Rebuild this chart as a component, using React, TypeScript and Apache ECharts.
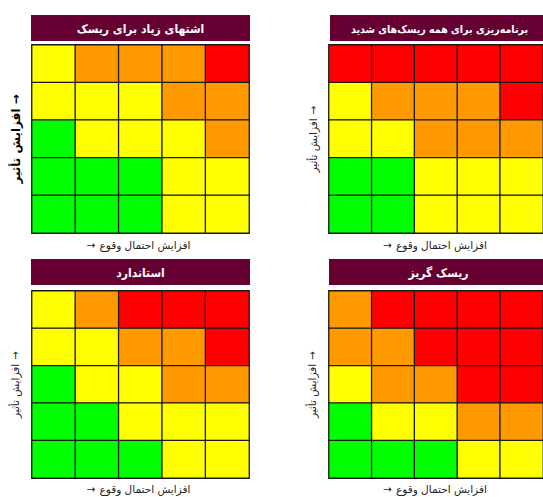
import React, { useEffect, useRef } from "react";
import * as echarts from "echarts";

// Axis categories (likelihood left→right, impact bottom→top)
const likelihood = ["1", "2", "3", "4", "5"];
const impact = ["1", "2", "3", "4", "5"];

// Risk levels: G = low, Y = medium, O = high, R = very high
const levelOrder = ["G", "Y", "O", "R"];
const levelColors = ["#00ff00", "#ffff00", "#ff9900", "#ff0000"];

// Matrices, rows listed from the highest impact (top) to the lowest
const highAppetite = [
  ["Y", "O", "O", "O", "R"],
  ["Y", "Y", "Y", "O", "O"],
  ["G", "Y", "Y", "Y", "O"],
  ["G", "G", "G", "Y", "Y"],
  ["G", "G", "G", "Y", "Y"],
];
const planSevere = [
  ["R", "R", "R", "R", "R"],
  ["Y", "O", "O", "O", "R"],
  ["Y", "Y", "O", "O", "O"],
  ["G", "G", "Y", "Y", "Y"],
  ["G", "G", "Y", "Y", "Y"],
];
const standard = [
  ["Y", "O", "R", "R", "R"],
  ["Y", "Y", "O", "O", "R"],
  ["G", "Y", "Y", "O", "O"],
  ["G", "G", "Y", "Y", "Y"],
  ["G", "G", "G", "Y", "Y"],
];
const riskAverse = [
  ["O", "R", "R", "R", "R"],
  ["O", "O", "R", "R", "R"],
  ["Y", "O", "O", "R", "R"],
  ["G", "Y", "Y", "O", "O"],
  ["G", "G", "G", "Y", "Y"],
];

const panelTitles = [
  "اشتهای زیاد برای ریسک",
  "برنامه‌ریزی برای همه ریسک‌های شدید",
  "استاندارد",
  "ریسک گریز",
];
const panelMatrices = [highAppetite, planSevere, standard, riskAverse];

const xAxisText = "افزایش احتمال وقوع";
const yAxisText = "افزایش تأثیر";
const ARROW = "→";

const FONT = '"DejaVu Sans", sans-serif';
const TITLE_FONT = '"DejaVu Sans Condensed", "DejaVu Sans", sans-serif';

// Panel frames: grid box, title bar, and axis-label anchors
const layout = [
  { left: 32, top: 45, width: 217, height: 188, barX: 31, barY: 15, xLabY: 245, yLabX: 16, titleSize: 12 },
  { left: 329, top: 45, width: 216, height: 188, barX: 330, barY: 15, xLabY: 245, yLabX: 313, titleSize: 10.6 },
  { left: 32, top: 291, width: 217, height: 187, barX: 31, barY: 259, xLabY: 489, yLabX: 15, titleSize: 12 },
  { left: 329, top: 291, width: 216, height: 187, barX: 329, barY: 259, xLabY: 489, yLabX: 312, titleSize: 12 },
];
const BAR_W = 219;
const BAR_H = 26;

const measure = (() => {
  const ctx = document.createElement("canvas").getContext("2d")!;
  return (text: string, font: string) => {
    ctx.font = font;
    return ctx.measureText(text).width;
  };
})();

const centered = (text: string, x: number, y: number, font: string, fill: string) => ({
  type: "text",
  x,
  y,
  silent: true,
  style: { text, fill, font, align: "center", verticalAlign: "middle" },
});

export default function App() {
  const ref = useRef<HTMLDivElement>(null);

  useEffect(() => {
    document.body.style.margin = "0";
    if (!ref.current) return;
    const chart = echarts.init(ref.current, undefined, { renderer: "svg" });

    const grids: any[] = [];
    const xAxes: any[] = [];
    const yAxes: any[] = [];
    const series: any[] = [];
    const graphics: any[] = [];

    const hidden = {
      axisLine: { show: false },
      axisTick: { show: false },
      axisLabel: { show: false },
      splitLine: { show: false },
    };

    panelMatrices.forEach((matrix, i) => {
      const L = layout[i];
      grids.push({ left: L.left, top: L.top, width: L.width, height: L.height });
      xAxes.push({ type: "category", gridIndex: i, data: likelihood, ...hidden });
      yAxes.push({ type: "category", gridIndex: i, data: impact, ...hidden });

      const data: any[] = [];
      matrix.forEach((row, r) => {
        row.forEach((lvl, c) => {
          data.push([c, impact.length - 1 - r, levelOrder.indexOf(lvl)]);
        });
      });
      series.push({
        type: "heatmap",
        xAxisIndex: i,
        yAxisIndex: i,
        data,
        itemStyle: { borderColor: "#1a1a1a", borderWidth: 1.3 },
        emphasis: { disabled: true },
        silent: true,
      });

      // Title bar
      graphics.push({
        type: "rect",
        shape: { x: L.barX, y: L.barY, width: BAR_W, height: BAR_H },
        style: { fill: "#660033" },
        silent: true,
      });
      graphics.push(
        centered(panelTitles[i], L.barX + BAR_W / 2, L.barY + BAR_H / 2 + 1, `bold ${L.titleSize}px ${TITLE_FONT}`, "#ffffff")
      );

      // Horizontal axis label: arrow on the left, pointing right
      const xFont = `10.5px ${FONT}`;
      const gap = 4;
      const xw = measure(xAxisText, xFont);
      const aw = measure(ARROW, xFont);
      const xCenter = L.left + L.width / 2 - 2;
      const xStart = xCenter - (xw + aw + gap) / 2;
      graphics.push(centered(ARROW, xStart + aw / 2, L.xLabY, xFont, "#222"));
      graphics.push(centered(xAxisText, xStart + aw + gap + xw / 2, L.xLabY, xFont, "#222"));

      // Vertical axis label, reading upward; arrow at the top, pointing up
      const yFont = i === 0 ? `bold 12px ${FONT}` : `10.5px ${FONT}`;
      const yColor = i === 0 ? "#000" : "#222";
      const yw = measure(yAxisText, yFont);
      const yaw = measure(ARROW, yFont);
      const yStart = -(yw + yaw + gap) / 2;
      graphics.push({
        type: "group",
        x: L.yLabX,
        y: L.top + L.height / 2,
        rotation: Math.PI / 2,
        silent: true,
        children: [
          centered(yAxisText, yStart + yw / 2, 0, yFont, yColor),
          centered(ARROW, yStart + yw + gap + yaw / 2, 0, yFont, yColor),
        ],
      });
    });

    chart.setOption({
      animation: false,
      backgroundColor: "#ffffff",
      visualMap: {
        type: "piecewise",
        show: false,
        dimension: 2,
        seriesIndex: [0, 1, 2, 3],
        pieces: levelColors.map((color, v) => ({ value: v, color })),
      },
      grid: grids,
      xAxis: xAxes,
      yAxis: yAxes,
      series,
      graphic: graphics,
    });

    return () => chart.dispose();
  }, []);

  return <div ref={ref} style={{ width: 543, height: 497 }} />;
}
